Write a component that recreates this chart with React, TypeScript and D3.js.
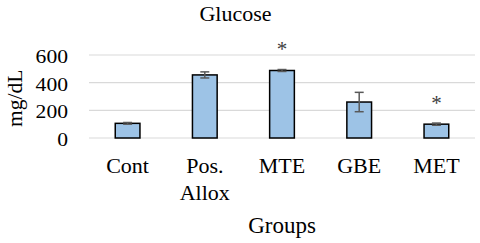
import React, { useEffect, useRef } from "react";
import * as d3 from "d3";

const groups = ["Cont", "Pos. Allox", "MTE", "GBE", "MET"];
const means = [106, 456, 488, 260, 100];
const errors = [6, 22, 7, 70, 8];
const marked = [false, false, true, false, true];
const yTicks = [0, 200, 400, 600];

const App = () => {
  const ref = useRef<SVGSVGElement>(null);

  useEffect(() => {
    const width = 480;
    const height = 243;
    const margin = { top: 55, right: 5, bottom: 105, left: 89 };
    const innerWidth = width - margin.left - margin.right;
    const innerHeight = height - margin.top - margin.bottom;
    const font = "'Liberation Serif', serif";

    const svg = d3.select(ref.current);
    svg.selectAll("*").remove();

    const g = svg.append("g").attr("transform", `translate(${margin.left}, ${margin.top})`);

    const xScale = d3.scaleBand().domain(groups).range([0, innerWidth]).paddingInner(0.68).paddingOuter(0.34);
    const yScale = d3.scaleLinear().domain([0, 600]).range([innerHeight, 0]);

    // gridlines
    g.selectAll(".grid")
      .data(yTicks)
      .join("line")
      .attr("x1", 0)
      .attr("x2", innerWidth)
      .attr("y1", d => yScale(d))
      .attr("y2", d => yScale(d))
      .attr("stroke", "#d9d9d9")
      .attr("stroke-width", 1.2);

    // y tick labels (a bit wide, like the source)
    g.selectAll(".ytick")
      .data(yTicks)
      .join("text")
      .attr("transform", d => `translate(-21, ${yScale(d) + 8}) scale(1.2, 1)`)
      .attr("text-anchor", "end")
      .style("font-family", font)
      .attr("font-size", 18)
      .attr("fill", "#000")
      .text(d => d);

    const data = groups.map((k, i) => ({ k, v: means[i], e: errors[i], star: marked[i] }));

    // bars
    g.selectAll(".bar")
      .data(data)
      .join("rect")
      .attr("x", d => xScale(d.k)!)
      .attr("y", d => yScale(d.v))
      .attr("width", xScale.bandwidth())
      .attr("height", d => innerHeight - yScale(d.v))
      .attr("fill", "#9dc3e6")
      .attr("stroke", "#000")
      .attr("stroke-width", 1.5);

    // error bars
    const cx = (k: string) => xScale(k)! + xScale.bandwidth() / 2;
    const eb = g.selectAll(".err").data(data).join("g").attr("stroke", "#595959").attr("stroke-width", 1.5);
    eb.append("line")
      .attr("x1", d => cx(d.k))
      .attr("x2", d => cx(d.k))
      .attr("y1", d => yScale(d.v + d.e))
      .attr("y2", d => yScale(d.v - d.e));
    eb.append("line")
      .attr("x1", d => cx(d.k) - 4.5)
      .attr("x2", d => cx(d.k) + 4.5)
      .attr("y1", d => yScale(d.v + d.e))
      .attr("y2", d => yScale(d.v + d.e));
    eb.append("line")
      .attr("x1", d => cx(d.k) - 4.5)
      .attr("x2", d => cx(d.k) + 4.5)
      .attr("y1", d => yScale(d.v - d.e))
      .attr("y2", d => yScale(d.v - d.e));

    // asterisks
    g.selectAll(".star")
      .data(data.filter(d => d.star))
      .join("text")
      .attr("x", d => cx(d.k))
      .attr("y", d => yScale(d.v + d.e) - 13.5)
      .attr("text-anchor", "middle")
      .style("font-family", font)
      .attr("font-size", 21)
      .attr("fill", "#404040")
      .text("*");

    // category labels
    g.selectAll(".xlab")
      .data(groups)
      .join("text")
      .attr("x", d => cx(d))
      .attr("y", innerHeight + 35)
      .attr("text-anchor", "middle")
      .style("font-family", font)
      .attr("font-size", 22)
      .attr("fill", "#000")
      .each(function (d) {
        const parts = d.split(" ");
        parts.forEach((p, i) => {
          d3.select(this)
            .append("tspan")
            .attr("x", cx(d))
            .attr("dy", i === 0 ? 0 : 26.6)
            .text(p);
        });
      });

    // title
    svg.append("text")
      .attr("x", 235.5)
      .attr("y", 21)
      .attr("text-anchor", "middle")
      .style("font-family", font)
      .attr("font-size", 22)
      .attr("fill", "#000")
      .text("Glucose");

    svg.append("text")
      .attr("x", margin.left + innerWidth / 2)
      .attr("y", 232.5)
      .attr("text-anchor", "middle")
      .style("font-family", font)
      .attr("font-size", 23)
      .attr("fill", "#000")
      .text("Groups");

    svg.append("text")
      .attr("transform", `translate(21.5, 98.3) rotate(-90)`)
      .attr("text-anchor", "middle")
      .style("font-family", font)
      .attr("font-size", 21.5)
      .attr("fill", "#000")
      .text("mg/dL");
  }, []);

  return (
    <svg ref={ref} width={480} height={243} style={{ position: "absolute", left: 0, top: 0, background: "#fff" }} />
  );
};

export default App;
